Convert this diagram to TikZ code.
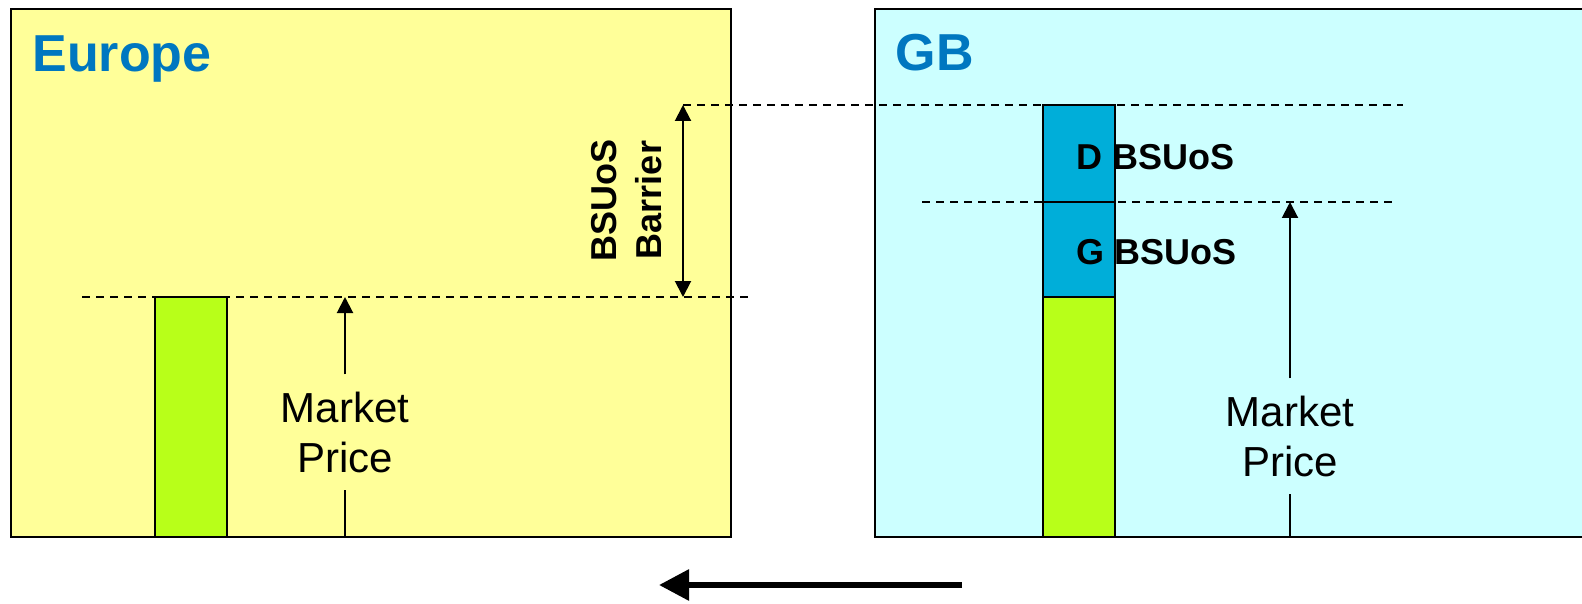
\documentclass[tikz,border=0pt]{standalone}
\usepackage{fontspec}
\setmainfont{Liberation Sans}
\usetikzlibrary{arrows.meta}
\definecolor{euyellow}{HTML}{FFFF99}
\definecolor{gbcyan}{HTML}{CCFFFF}
\definecolor{titleblue}{HTML}{0077C0}
\definecolor{bsublue}{HTML}{00AED9}
\definecolor{pricegreen}{HTML}{B8FF19}
\begin{document}
\begin{tikzpicture}[x=1pt, y=-1pt,
    region/.style={draw, line width=2pt},
    bar/.style={draw, line width=2pt},
    level/.style={line width=2pt, dash pattern=on 8pt off 6pt},
    title/.style={anchor=base west, text=titleblue, font=\fontsize{52}{60}\selectfont\bfseries},
    charge/.style={anchor=base west, font=\fontsize{36}{45}\selectfont\bfseries},
    price/.style={align=center, inner xsep=0pt, inner ysep=17pt, font=\fontsize{42}{50}\selectfont},
    tip/.style={line width=2pt, arrows={-Triangle[length=16pt, width=16pt]}}]
  \useasboundingbox (0,0) rectangle (1582,604);
  \begin{scope}
    \clip (0,0) rectangle (1582,604);
    \draw[region, fill=euyellow] (11,9) rectangle (731,537);
    \draw[region, fill=gbcyan] (875,9) rectangle (1600,537);
  \end{scope}
  \node[title] (EU) at (29,72) {Europe};
  \node[title] (GB) at (892,71) {GB};

  \coordinate (L1a) at (683,105);  \coordinate (L1b) at (1403,105);
  \coordinate (L2a) at (922,202);  \coordinate (L2b) at (1392,202);
  \coordinate (L3a) at (82,297);   \coordinate (L3b) at (748,297);
  \coordinate (L3c) at (683,297);
  \draw[level] (L1a) -- (L1b);
  \draw[level] (L2a) -- (L2b);
  \draw[level] (L3a) -- (L3b);

  \draw[bar, fill=pricegreen] (155,297) rectangle (227,537);
  \draw[bar, fill=bsublue] (1043,105) rectangle (1115,202);
  \draw[bar, fill=bsublue] (1043,202) rectangle (1115,297);
  \draw[bar, fill=pricegreen] (1043,297) rectangle (1115,537);
  \node[charge] (DB) at (1073,170) {D BSUoS};
  \node[charge] (GBS) at (1073,265) {G BSUoS};

  \node[rotate=90, align=center, font=\fontsize{36}{45}\selectfont\bfseries] (BAR) at (627,200) {BSUoS\\Barrier};
  \path[tip, arrows={Triangle[length=16pt, width=16pt]-Triangle[length=16pt, width=16pt]}] (L1a) edge (L3c);

  \node[price] (EUP) at (345,432) {Market\\Price};
  \coordinate (EUB) at (345,537);
  \coordinate (EUT) at (345,297);
  \draw[line width=2pt] (EUB) -- (EUP.south);
  \draw[tip] (EUP.north) -- (EUT);

  \node[price] (GBP) at (1290,436) {Market\\Price};
  \coordinate (GBB) at (1290,537);
  \coordinate (GBT) at (1290,202);
  \draw[line width=2pt] (GBB) -- (GBP.south);
  \draw[tip] (GBP.north) -- (GBT);

  \coordinate (FR) at (962,585);
  \coordinate (FL) at (659,585);
  \draw[line width=6pt, arrows={-Triangle[length=30pt, width=30pt]}] (FR) -- (FL);
\end{tikzpicture}
\end{document}
